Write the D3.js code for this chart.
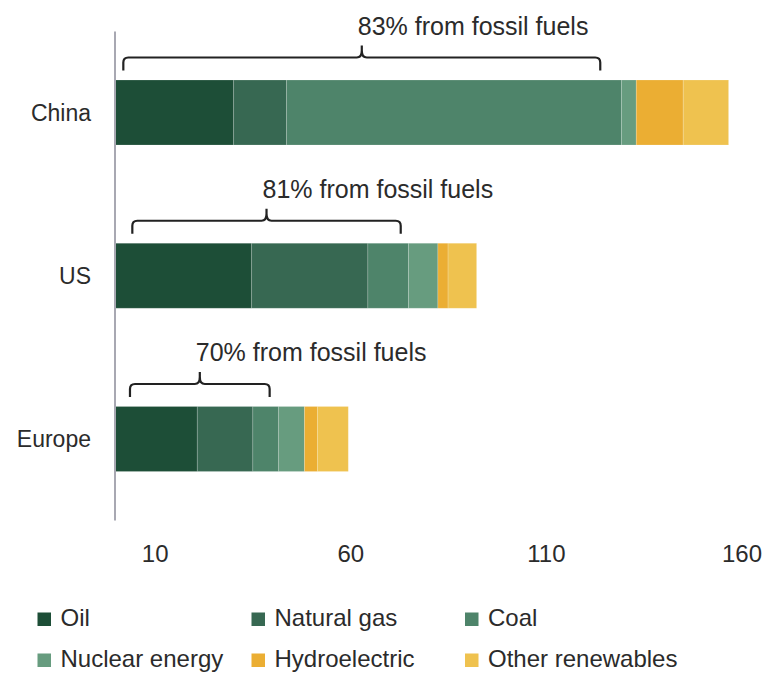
<!DOCTYPE html>
<html>
<head>
<meta charset="utf-8">
<script src="https://cdn.jsdelivr.net/npm/d3@7"></script>
<style>
  body { margin: 0; background: #fff; }
  svg text { font-family: "Liberation Sans", Arial, sans-serif; fill: #2b2b2b; }
</style>
</head>
<body>
<svg width="764" height="677"></svg>
<script>
// energy consumption by source
var regions = ["China", "US", "Europe"];
var sources = ["Oil", "Natural gas", "Coal", "Nuclear energy", "Hydroelectric", "Other renewables"];
var oil = [30.2, 34.8, 20.9];
var naturalGas = [13.5, 29.7, 14.2];
var coal = [85.6, 10.4, 6.6];
var nuclear = [3.8, 7.5, 6.6];
var hydro = [12.0, 2.6, 3.3];
var otherRenewables = [11.6, 7.3, 7.9];
var fossilShare = [83, 81, 70];
// bracket spans, in axis units
var bracketFrom = [2.0, 4.3, 3.7];
var bracketTo = [123.9, 72.9, 39.4];
var tickValues = [10, 60, 110, 160];

var colors = ["#1d4e37", "#376852", "#4e846a", "#679c7f", "#ebae33", "#efc24f"];

var svg = d3.select("svg");

var x = d3.scaleLinear().domain([0, 160]).range([115.5, 741.5]);
var y = d3.scalePoint().domain(regions).range([112.5, 439]);
var barH = 65;

var rows = regions.map(function(r, i) {
  return { region: r, Oil: oil[i], "Natural gas": naturalGas[i], Coal: coal[i],
    "Nuclear energy": nuclear[i], Hydroelectric: hydro[i], "Other renewables": otherRenewables[i] };
});
var stacked = d3.stack().keys(sources)(rows);
var color = d3.scaleOrdinal().domain(sources).range(colors);

// bars
svg.append("g")
  .selectAll("g")
  .data(stacked)
  .enter().append("g")
    .attr("fill", function(d) { return color(d.key); })
  .selectAll("rect")
  .data(function(d) { return d; })
  .enter().append("rect")
    .attr("x", function(d) { return x(d[0]); })
    .attr("width", function(d) { return x(d[1]) - x(d[0]); })
    .attr("y", function(d) { return y(d.data.region) - barH / 2; })
    .attr("height", barH)
    .attr("stroke", "rgba(255,255,255,0.22)")
    .attr("stroke-width", 0.8);

// vertical baseline
svg.append("line")
  .attr("x1", 115).attr("x2", 115)
  .attr("y1", 31.5).attr("y2", 520.5)
  .attr("stroke", "#a8a8b2")
  .attr("stroke-width", 2);

// category labels
svg.append("g")
  .selectAll("text")
  .data(regions)
  .enter().append("text")
    .attr("x", 91)
    .attr("y", function(d) { return y(d); })
    .attr("dy", "0.35em")
    .attr("text-anchor", "end")
    .style("font-size", "23px")
    .text(function(d) { return d; });

// x axis (labels only)
var axis = svg.append("g")
  .call(d3.axisBottom(x).tickValues(tickValues).tickSize(0).tickPadding(0));
axis.select(".domain").remove();
axis.selectAll("text")
  .attr("y", 561.5)
  .attr("dy", 0)
  .style("font-size", "24px")
  .style("font-family", "'Liberation Sans', Arial, sans-serif")
  .attr("fill", "#2b2b2b");

// brackets with annotation
regions.forEach(function(r, i) {
  var x1 = x(bracketFrom[i]), x2 = x(bracketTo[i]);
  var mid = (x1 + x2) / 2;
  var yl = y(r) - barH / 2 - 22.5;
  var p = d3.path();
  p.moveTo(x1, yl + 13);
  p.lineTo(x1, yl + 5);
  p.quadraticCurveTo(x1, yl, x1 + 5, yl);
  p.lineTo(mid - 5, yl);
  p.quadraticCurveTo(mid, yl, mid, yl - 7);
  p.lineTo(mid, yl - 12);
  p.moveTo(mid, yl - 7);
  p.quadraticCurveTo(mid, yl, mid + 5, yl);
  p.lineTo(x2 - 5, yl);
  p.quadraticCurveTo(x2, yl, x2, yl + 5);
  p.lineTo(x2, yl + 13);
  svg.append("path")
    .attr("d", p.toString())
    .attr("fill", "none")
    .attr("stroke", "#222")
    .attr("stroke-width", 2.2);
  svg.append("text")
    .attr("x", mid - 4)
    .attr("y", yl - 23)
    .style("font-size", "25px")
    .text(fossilShare[i] + "% from fossil fuels");
});

// legend
var legendCols = [37.5, 251.5, 465];
var legendRows = [626, 667];
var legend = svg.append("g")
  .selectAll("g")
  .data(sources)
  .enter().append("g")
    .attr("transform", function(d, i) {
      return "translate(" + legendCols[i % 3] + "," + legendRows[Math.floor(i / 3)] + ")";
    });
legend.append("rect")
  .attr("x", 0).attr("y", -13.5)
  .attr("width", 13.5).attr("height", 13.5)
  .attr("fill", function(d) { return color(d); });
legend.append("text")
  .attr("x", 23)
  .attr("y", 0)
  .style("font-size", "24px")
  .text(function(d) { return d; });
</script>
</body>
</html>
